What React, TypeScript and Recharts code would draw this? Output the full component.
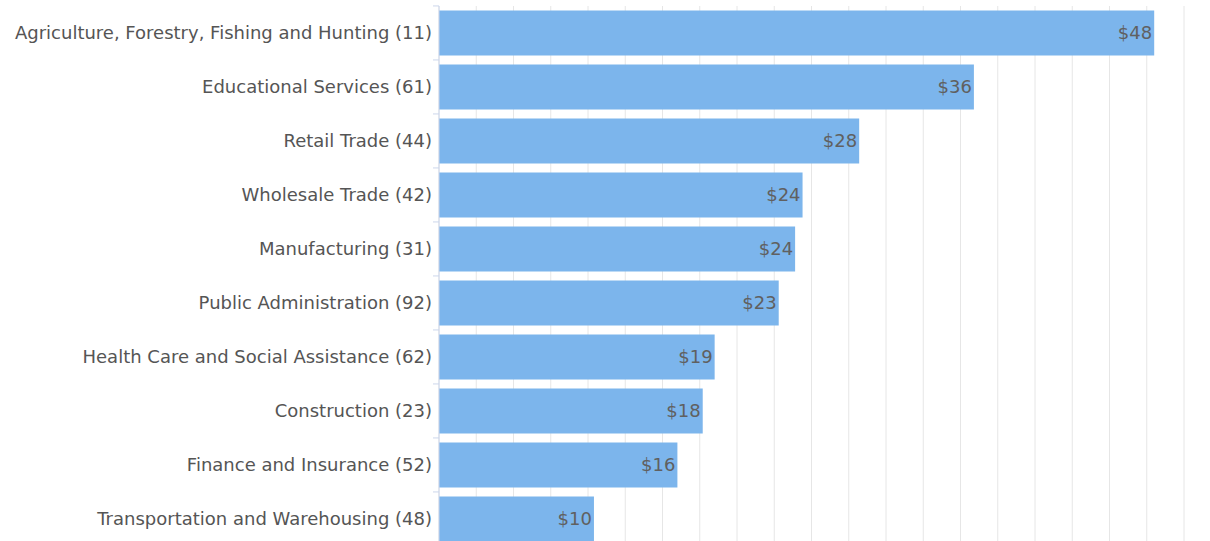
import React from 'react';
import { BarChart, Bar, XAxis, YAxis, CartesianGrid, LabelList } from 'recharts';

// Industry categories (NAICS code in brackets)
const industries = [
  'Agriculture, Forestry, Fishing and Hunting (11)',
  'Educational Services (61)',
  'Retail Trade (44)',
  'Wholesale Trade (42)',
  'Manufacturing (31)',
  'Public Administration (92)',
  'Health Care and Social Assistance (62)',
  'Construction (23)',
  'Finance and Insurance (52)',
  'Transportation and Warehousing (48)',
];

// values
const amounts = [48.0, 35.9, 28.2, 24.4, 23.9, 22.8, 18.5, 17.7, 16.0, 10.4];

// grid ticks on the (hidden) value axis
const xTicks = [0, 2.5, 5, 7.5, 10, 12.5, 15, 17.5, 20, 22.5, 25, 27.5, 30, 32.5, 35, 37.5, 40, 42.5, 45, 47.5, 50];

const chartData = industries.map((name, i) => ({ name, value: amounts[i] }));

// the plot runs a little past the bottom of the visible frame
const VIEW_W = 1210;
const VIEW_H = 541;
const CHART_H = 547;
const MARGIN = { top: 6, right: 26, bottom: 0, left: 0 };
const FONT = '"DejaVu Sans", sans-serif';

const bandSize = (CHART_H - MARGIN.top - MARGIN.bottom) / industries.length;

const CategoryTick = (props: any) => {
  const { x, y, payload } = props;
  const axisX = x + 7;
  return (
    <g>
      <line x1={axisX - 6} x2={axisX} y1={y - bandSize / 2} y2={y - bandSize / 2} stroke="#ccd6eb" />
      <text x={x} y={y} dy={6} textAnchor="end" fill="#555" fontSize={18} fontFamily={FONT}>
        {payload.value}
      </text>
    </g>
  );
};

const NoTick = () => <g />;

export default function App() {
  return (
    <div style={{ position: 'fixed', left: 0, top: 0, width: VIEW_W, height: VIEW_H, overflow: 'hidden', background: '#fff' }}>
      <BarChart
        width={VIEW_W}
        height={CHART_H}
        data={chartData}
        layout="vertical"
        margin={MARGIN}
        barCategoryGap="8.3%"
      >
        <CartesianGrid horizontal={false} stroke="#e6e6e6" />
        <XAxis
          type="number"
          domain={[0, 50]}
          ticks={xTicks}
          interval={0}
          height={1}
          tick={<NoTick />}
          axisLine={false}
          tickLine={false}
        />
        <YAxis
          type="category"
          dataKey="name"
          width={439}
          axisLine={{ stroke: '#ccd6eb' }}
          tickLine={false}
          tickSize={0}
          tickMargin={7}
          interval={0}
          tick={<CategoryTick />}
        />
        <Bar dataKey="value" fill="#7cb5ec" isAnimationActive={false}>
          <LabelList
            dataKey="value"
            position="insideRight"
            offset={2}
            fill="#606060"
            fontSize={18}
            fontFamily={FONT}
            formatter={(v: any) => `$${Math.round(Number(v))}`}
          />
        </Bar>
      </BarChart>
    </div>
  );
}
